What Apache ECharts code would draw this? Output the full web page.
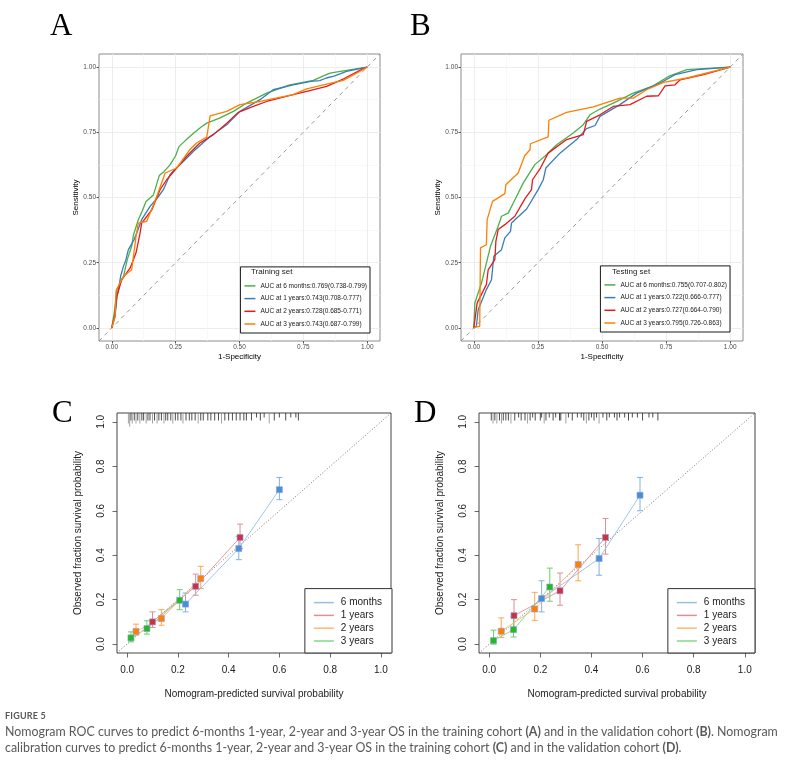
<!DOCTYPE html>
<html>
<head>
<meta charset="utf-8">
<script src="https://cdn.jsdelivr.net/npm/echarts@6.0.0/dist/echarts.min.js"></script>
<style>
body { margin: 0; background: #fff; }
#chart { position: absolute; left: 0; top: 0; width: 786px; height: 766px; }
#caption { position: absolute; left: 5px; top: 710px; color: #595959; font-family: Lato, "Open Sans", sans-serif; white-space: nowrap; }
#caption .fig { font-size: 9px; font-weight: bold; letter-spacing: 0.2px; margin-bottom: 3px; }
#caption .txt { font-size: 12.4px; line-height: 16px; }
</style>
</head>
<body>
<div id="chart"></div>
<div id="caption">
  <div class="fig">FIGURE 5</div>
  <div class="txt">Nomogram ROC curves to predict 6-months 1-year, 2-year and 3-year OS in the training cohort <b>(A)</b> and in the validation cohort <b>(B)</b>. Nomogram<br>calibration curves to predict 6-months 1-year, 2-year and 3-year OS in the training cohort <b>(C)</b> and in the validation cohort <b>(D)</b>.</div>
</div>
<script>
// ---- tick labels ----
const rocTicks = [0, 0.25, 0.5, 0.75, 1];
const rocMinor = [0.125, 0.375, 0.625, 0.875];
const calTicks = [0, 0.2, 0.4, 0.6, 0.8, 1];

// ---- ROC legend names ----
const rocNamesA = ['AUC at 6 months:0.769(0.738-0.799)', 'AUC at 1 years:0.743(0.708-0.777)',
  'AUC at 2 years:0.728(0.685-0.771)', 'AUC at 3 years:0.743(0.687-0.799)'];
const rocNamesB = ['AUC at 6 months:0.755(0.707-0.802)', 'AUC at 1 years:0.722(0.666-0.777)',
  'AUC at 2 years:0.727(0.664-0.790)', 'AUC at 3 years:0.795(0.726-0.863)'];
const rocColors = ['#4daf4a', '#377eb8', '#e41a1c', '#ff7f00'];

// ---- ROC curves, training set [1-specificity, sensitivity] ----
const rocA6m = [[0,0],[0.01,0.06],[0.02,0.147],[0.046,0.198],[0.06,0.26],[0.078,0.313],[0.085,0.357],[0.104,0.415],
  [0.12,0.45],[0.134,0.485],[0.163,0.51],[0.186,0.584],[0.205,0.6],[0.228,0.625],[0.25,0.66],[0.263,0.695],[0.29,0.72],
  [0.32,0.746],[0.35,0.77],[0.372,0.785],[0.424,0.805],[0.476,0.83],[0.528,0.862],[0.606,0.9],[0.65,0.915],[0.697,0.932],
  [0.789,0.949],[0.82,0.962],[0.854,0.977],[0.919,0.987],[1,1]];
const rocA1y = [[0,0],[0.013,0.045],[0.02,0.12],[0.026,0.147],[0.035,0.2],[0.046,0.237],[0.055,0.26],[0.065,0.3],
  [0.087,0.338],[0.1,0.37],[0.117,0.415],[0.15,0.466],[0.18,0.5],[0.202,0.53],[0.228,0.587],[0.25,0.61],[0.274,0.632],
  [0.32,0.677],[0.385,0.734],[0.45,0.779],[0.502,0.83],[0.58,0.875],[0.632,0.913],[0.71,0.932],[0.78,0.945],[0.814,0.948],
  [0.84,0.958],[0.87,0.965],[0.919,0.983],[1,1]];
const rocA2y = [[0,0],[0.012,0.05],[0.02,0.121],[0.039,0.185],[0.072,0.23],[0.095,0.288],[0.11,0.36],[0.117,0.402],
  [0.157,0.453],[0.189,0.53],[0.215,0.568],[0.254,0.613],[0.293,0.658],[0.345,0.709],[0.398,0.741],[0.45,0.785],
  [0.495,0.826],[0.554,0.849],[0.606,0.868],[0.71,0.894],[0.763,0.907],[0.841,0.926],[0.906,0.954],[0.971,0.987],[1,1]];
const rocA3y = [[0,0],[0.013,0.045],[0.017,0.144],[0.046,0.198],[0.078,0.223],[0.095,0.351],[0.104,0.402],[0.137,0.409],
  [0.176,0.504],[0.209,0.594],[0.254,0.613],[0.306,0.684],[0.332,0.709],[0.372,0.732],[0.385,0.813],[0.45,0.83],
  [0.502,0.856],[0.58,0.868],[0.71,0.894],[0.763,0.916],[0.828,0.932],[0.906,0.949],[0.971,0.983],[1,1]];

// ---- ROC curves, testing set ----
const rocB6m = [[0,0],[0.004,0.096],[0.03,0.172],[0.065,0.313],[0.095,0.39],[0.108,0.428],[0.134,0.44],[0.154,0.479],
  [0.193,0.556],[0.238,0.626],[0.277,0.658],[0.323,0.702],[0.388,0.747],[0.427,0.779],[0.453,0.817],[0.492,0.839],
  [0.544,0.862],[0.622,0.9],[0.7,0.928],[0.759,0.964],[0.831,0.99],[1,1]];
const rocB1y = [[0,0],[0.01,0.006],[0.017,0.07],[0.049,0.147],[0.069,0.185],[0.078,0.275],[0.108,0.3],[0.121,0.345],
  [0.143,0.37],[0.147,0.402],[0.206,0.456],[0.251,0.53],[0.271,0.568],[0.281,0.613],[0.336,0.67],[0.401,0.722],
  [0.44,0.764],[0.473,0.776],[0.492,0.811],[0.57,0.856],[0.635,0.9],[0.727,0.939],[0.785,0.971],[0.87,0.99],[1,1]];
const rocB2y = [[0,0],[0.013,0.096],[0.049,0.166],[0.056,0.223],[0.082,0.262],[0.086,0.332],[0.095,0.377],[0.121,0.396],
  [0.16,0.428],[0.199,0.495],[0.225,0.53],[0.229,0.568],[0.26,0.613],[0.29,0.67],[0.362,0.722],[0.427,0.741],[0.44,0.792],
  [0.492,0.817],[0.544,0.849],[0.609,0.856],[0.674,0.888],[0.72,0.89],[0.746,0.928],[0.785,0.932],[0.805,0.951],
  [0.896,0.971],[1,1]];
const rocB3y = [[0,0],[0.01,0.004],[0.023,0.006],[0.026,0.307],[0.049,0.319],[0.052,0.415],[0.073,0.485],[0.121,0.515],
  [0.125,0.549],[0.173,0.594],[0.199,0.661],[0.219,0.683],[0.221,0.706],[0.29,0.732],[0.293,0.796],[0.362,0.826],
  [0.466,0.847],[0.57,0.881],[0.622,0.881],[0.674,0.913],[0.74,0.941],[0.831,0.958],[1,1]];

const rocDiag = [[-0.05,-0.05],[1.05,1.05]];
const calDiag = [[-0.04,-0.04],[1.04,1.04]];

// ---- calibration: [predicted, observed, lower, upper] ----
const calNames = ['6 months', '1 years', '2 years', '3 years'];
const calLineColors = ['#93c2e2', '#de9096', '#ffb870', '#86d986'];
const calBarColors = ['#7fb3de', '#de8e96', '#ffa64d', '#6ccf6c'];
const calMarkColors = ['#4a8fd6', '#cc3340', '#ff8000', '#22bb22'];
const calC6m = [[0.23,0.18,0.145,0.23],[0.44,0.43,0.38,0.485],[0.60,0.695,0.65,0.75]];
const calC1y = [[0.10,0.10,0.075,0.145],[0.27,0.26,0.22,0.315],[0.445,0.48,0.43,0.54]];
const calC2y = [[0.035,0.057,0.04,0.09],[0.135,0.115,0.085,0.155],[0.29,0.295,0.25,0.35]];
const calC3y = [[0.015,0.028,0.01,0.055],[0.078,0.07,0.045,0.105],[0.207,0.197,0.155,0.245]];
const calD6m = [[0.205,0.205,0.145,0.285],[0.43,0.385,0.31,0.475],[0.59,0.67,0.6,0.75]];
const calD1y = [[0.097,0.128,0.065,0.2],[0.277,0.24,0.175,0.32],[0.455,0.48,0.405,0.565]];
const calD2y = [[0.047,0.058,0.03,0.118],[0.178,0.158,0.107,0.233],[0.348,0.358,0.285,0.447]];
const calD3y = [[0.017,0.016,0.0,0.063],[0.095,0.065,0.032,0.125],[0.237,0.257,0.193,0.342]];

// ---- rug of predicted values: [predicted, count] ----
const rugC = [[0.005,3],[0.01,4],[0.015,2],[0.02,3],[0.028,2],[0.035,3],[0.042,2],[0.05,3],[0.058,2],[0.065,2],[0.075,3],
  [0.082,2],[0.09,2],[0.1,3],[0.108,2],[0.118,3],[0.125,2],[0.135,2],[0.145,3],[0.152,2],[0.16,2],[0.172,2],[0.18,3],
  [0.19,2],[0.2,2],[0.212,2],[0.22,3],[0.232,2],[0.245,2],[0.255,2],[0.268,2],[0.28,3],[0.29,2],[0.3,2],[0.318,2],
  [0.33,2],[0.345,2],[0.36,2],[0.372,3],[0.385,2],[0.4,2],[0.415,2],[0.43,2],[0.445,2],[0.46,2],[0.47,2],[0.49,2],
  [0.51,1],[0.525,2],[0.54,1],[0.56,3],[0.58,2],[0.6,1],[0.625,2],[0.645,1],[0.665,1],[0.675,2]];
const rugD = [[0.008,2],[0.015,3],[0.022,2],[0.03,3],[0.04,2],[0.048,3],[0.055,2],[0.065,2],[0.075,2],[0.085,3],[0.1,2],
  [0.115,1],[0.125,2],[0.14,2],[0.15,3],[0.16,2],[0.17,1],[0.18,2],[0.2,2],[0.205,1],[0.215,3],[0.222,2],[0.235,1],
  [0.25,2],[0.26,1],[0.275,2],[0.28,2],[0.3,3],[0.31,1],[0.325,2],[0.345,1],[0.36,1],[0.37,2],[0.38,3],[0.39,2],[0.4,1],
  [0.41,2],[0.42,1],[0.43,3],[0.445,1],[0.46,2],[0.47,1],[0.49,1],[0.5,2],[0.51,1],[0.53,1],[0.545,2],[0.56,1],[0.58,1],
  [0.6,2],[0.625,1],[0.64,1],[0.66,2]];

const SANS = 'Liberation Sans, Arial, sans-serif';

function rocAxis(gridIndex, isY) {
  return {
    type: 'value', gridIndex, min: -0.05, max: 1.05,
    name: isY ? 'Sensitivity' : '1-Specificity', nameLocation: 'middle', nameGap: isY ? 17 : 12,
    nameTextStyle: { fontSize: 8, color: '#000', fontFamily: SANS },
    axisLine: { show: false, onZero: false },
    axisTick: { show: true, length: 2.5, lineStyle: { color: '#333', width: 0.8 }, customValues: rocTicks },
    axisLabel: { fontSize: 6.5, color: '#4d4d4d', fontFamily: SANS, margin: 3, customValues: rocTicks,
      formatter: v => v.toFixed(2) },
    splitLine: { show: true, lineStyle: { color: '#ebebeb', width: 0.9 } }
  };
}
function rocMinorAxis(gridIndex) {
  return {
    type: 'value', gridIndex, min: -0.05, max: 1.05,
    axisLine: { show: false, onZero: false }, axisLabel: { show: false },
    axisTick: { show: false, customValues: rocMinor },
    splitLine: { show: true, lineStyle: { color: '#f4f4f4', width: 0.6 } }
  };
}
function calAxis(gridIndex, isY) {
  return {
    type: 'value', gridIndex, min: -0.04, max: 1.04,
    name: isY ? 'Observed fraction survival probability' : 'Nomogram-predicted survival probability',
    nameLocation: 'middle', nameGap: isY ? 34 : 36,
    nameTextStyle: { fontSize: 10, color: '#222', fontFamily: SANS },
    axisLine: { show: false, onZero: false },
    axisTick: { show: true, length: 4.5, lineStyle: { color: '#444', width: 0.8 }, customValues: calTicks },
    axisLabel: { fontSize: 10, color: '#222', fontFamily: SANS, margin: isY ? 11 : 12, rotate: isY ? 90 : 0,
      customValues: calTicks, formatter: v => v.toFixed(1) },
    splitLine: { show: false }
  };
}

function rocSeries(name, data, color, ai) {
  return { type: 'line', name, data, xAxisIndex: ai, yAxisIndex: ai, symbol: 'none', showSymbol: false,
    lineStyle: { color, width: 1.3 }, itemStyle: { color }, z: 3 };
}
function diagSeries(data, ai, style) {
  return { type: 'line', name: 'diag' + ai, data, xAxisIndex: ai, yAxisIndex: ai, symbol: 'none',
    lineStyle: style, z: 2, silent: true };
}
function calLine(name, rows, i, ai) {
  return { type: 'line', name, data: rows.map(r => [r[0], r[1]]), xAxisIndex: ai, yAxisIndex: ai,
    symbol: 'rect', symbolSize: 6, showSymbol: true,
    lineStyle: { color: calLineColors[i], width: 0.9 },
    itemStyle: { color: calMarkColors[i], borderColor: '#8f9be6', borderWidth: 0.6 }, z: 4 };
}
function calErr(name, rows, i, ai) {
  return { type: 'custom', name: name + ' ci', data: rows.map(r => [r[0], r[2], r[3]]),
    xAxisIndex: ai, yAxisIndex: ai, encode: { x: 0, y: [1, 2] }, z: 3,
    renderItem(params, api) {
      const lo = api.coord([api.value(0), api.value(1)]);
      const hi = api.coord([api.value(0), api.value(2)]);
      const st = { stroke: calBarColors[i], lineWidth: 1 };
      return { type: 'group', children: [
        { type: 'line', shape: { x1: lo[0], y1: lo[1], x2: hi[0], y2: hi[1] }, style: st },
        { type: 'line', shape: { x1: lo[0] - 3, y1: lo[1], x2: lo[0] + 3, y2: lo[1] }, style: st },
        { type: 'line', shape: { x1: hi[0] - 3, y1: hi[1], x2: hi[0] + 3, y2: hi[1] }, style: st }
      ] };
    } };
}
function rugSeries(data, ai) {
  return { type: 'custom', name: 'rug' + ai, data, xAxisIndex: ai, yAxisIndex: ai, encode: { x: 0 }, z: 2,
    renderItem(params, api) {
      const p = api.coord([api.value(0), 1.04]);
      const n = api.value(1);
      return { type: 'line', shape: { x1: p[0], y1: p[1], x2: p[0], y2: p[1] + 1.5 + 3 * n },
        style: { stroke: n >= 3 ? '#8a8a8a' : '#222', lineWidth: 0.8 } };
    } };
}

function rocLegend(names, right, bottom) {
  return { orient: 'vertical', right, bottom, selectedMode: false,
    data: names.map((n, i) => ({ name: n, icon: 'rect', itemStyle: { color: rocColors[i], borderWidth: 0 } })),
    itemWidth: 11, itemHeight: 1.5, itemGap: 4.7, padding: [15, 3, 5, 4],
    borderColor: '#1a1a1a', borderWidth: 1, backgroundColor: '#fff',
    textStyle: { fontSize: 6.5, lineHeight: 8, color: '#1a1a1a', fontFamily: SANS } };
}
function calLegend(right, bottom) {
  return { orient: 'vertical', right, bottom, selectedMode: false,
    data: calNames.map((n, i) => ({ name: n, icon: 'rect', itemStyle: { color: calLineColors[i], borderWidth: 0 } })),
    itemWidth: 20, itemHeight: 1.5, itemGap: 0.8, padding: [8, 10, 6, 9],
    borderColor: '#333', borderWidth: 1, backgroundColor: '#fff',
    textStyle: { fontSize: 10, lineHeight: 12, color: '#222', fontFamily: SANS, padding: [0, 0, 0, 2] } };
}

function letter(text, left, top) {
  return { text, left, top, padding: 0,
    textStyle: { fontSize: 31, fontWeight: 'normal', color: '#000', fontFamily: 'Liberation Serif, Times New Roman, serif' } };
}

const series = [
  diagSeries(rocDiag, 0, { color: '#8c8c8c', width: 0.9, type: [4, 4] }),
  rocSeries(rocNamesA[0], rocA6m, rocColors[0], 0),
  rocSeries(rocNamesA[1], rocA1y, rocColors[1], 0),
  rocSeries(rocNamesA[2], rocA2y, rocColors[2], 0),
  rocSeries(rocNamesA[3], rocA3y, rocColors[3], 0),
  diagSeries(rocDiag, 2, { color: '#8c8c8c', width: 0.9, type: [4, 4] }),
  rocSeries(rocNamesB[0], rocB6m, rocColors[0], 2),
  rocSeries(rocNamesB[1], rocB1y, rocColors[1], 2),
  rocSeries(rocNamesB[2], rocB2y, rocColors[2], 2),
  rocSeries(rocNamesB[3], rocB3y, rocColors[3], 2),
  diagSeries(calDiag, 4, { color: '#555', width: 0.8, type: [1, 2] }),
  diagSeries(calDiag, 5, { color: '#555', width: 0.8, type: [1, 2] }),
  rugSeries(rugC, 4),
  rugSeries(rugD, 5)
];
[calC6m, calC1y, calC2y, calC3y].forEach((rows, i) => {
  series.push(calErr('C ' + calNames[i], rows, i, 4));
  series.push(calLine(calNames[i], rows, i, 4));
});
[calD6m, calD1y, calD2y, calD3y].forEach((rows, i) => {
  series.push(calErr('D ' + calNames[i], rows, i, 5));
  series.push(calLine(calNames[i], rows, i, 5));
});

const chart = echarts.init(document.getElementById('chart'));
chart.setOption({
  animation: false,
  backgroundColor: '#fff',
  title: [
    letter('A', 50, 11), letter('B', 410, 11), letter('C', 52, 398), letter('D', 414, 398),
    { text: 'Training set', left: 251, top: 268, padding: 0,
      textStyle: { fontSize: 8, fontWeight: 'normal', color: '#1a1a1a', fontFamily: SANS } },
    { text: 'Testing set', left: 612, top: 268, padding: 0,
      textStyle: { fontSize: 8, fontWeight: 'normal', color: '#1a1a1a', fontFamily: SANS } }
  ],
  grid: [
    { left: 99, top: 54, width: 281, height: 287, show: true, borderColor: '#8c8c8c', borderWidth: 1 },
    { left: 461, top: 54, width: 282, height: 287, show: true, borderColor: '#8c8c8c', borderWidth: 1 },
    { left: 117, top: 413, width: 274, height: 240, show: true, borderColor: '#444', borderWidth: 1 },
    { left: 479, top: 413, width: 276, height: 240, show: true, borderColor: '#444', borderWidth: 1 }
  ],
  xAxis: [rocAxis(0, false), rocMinorAxis(0), rocAxis(1, false), rocMinorAxis(1), calAxis(2, false), calAxis(3, false)],
  yAxis: [rocAxis(0, true), rocMinorAxis(0), rocAxis(1, true), rocMinorAxis(1), calAxis(2, true), calAxis(3, true)],
  legend: [rocLegend(rocNamesA, 416, 433), rocLegend(rocNamesB, 56, 434), calLegend(394, 113), calLegend(31, 113)],
  series
});
</script>
</body>
</html>
